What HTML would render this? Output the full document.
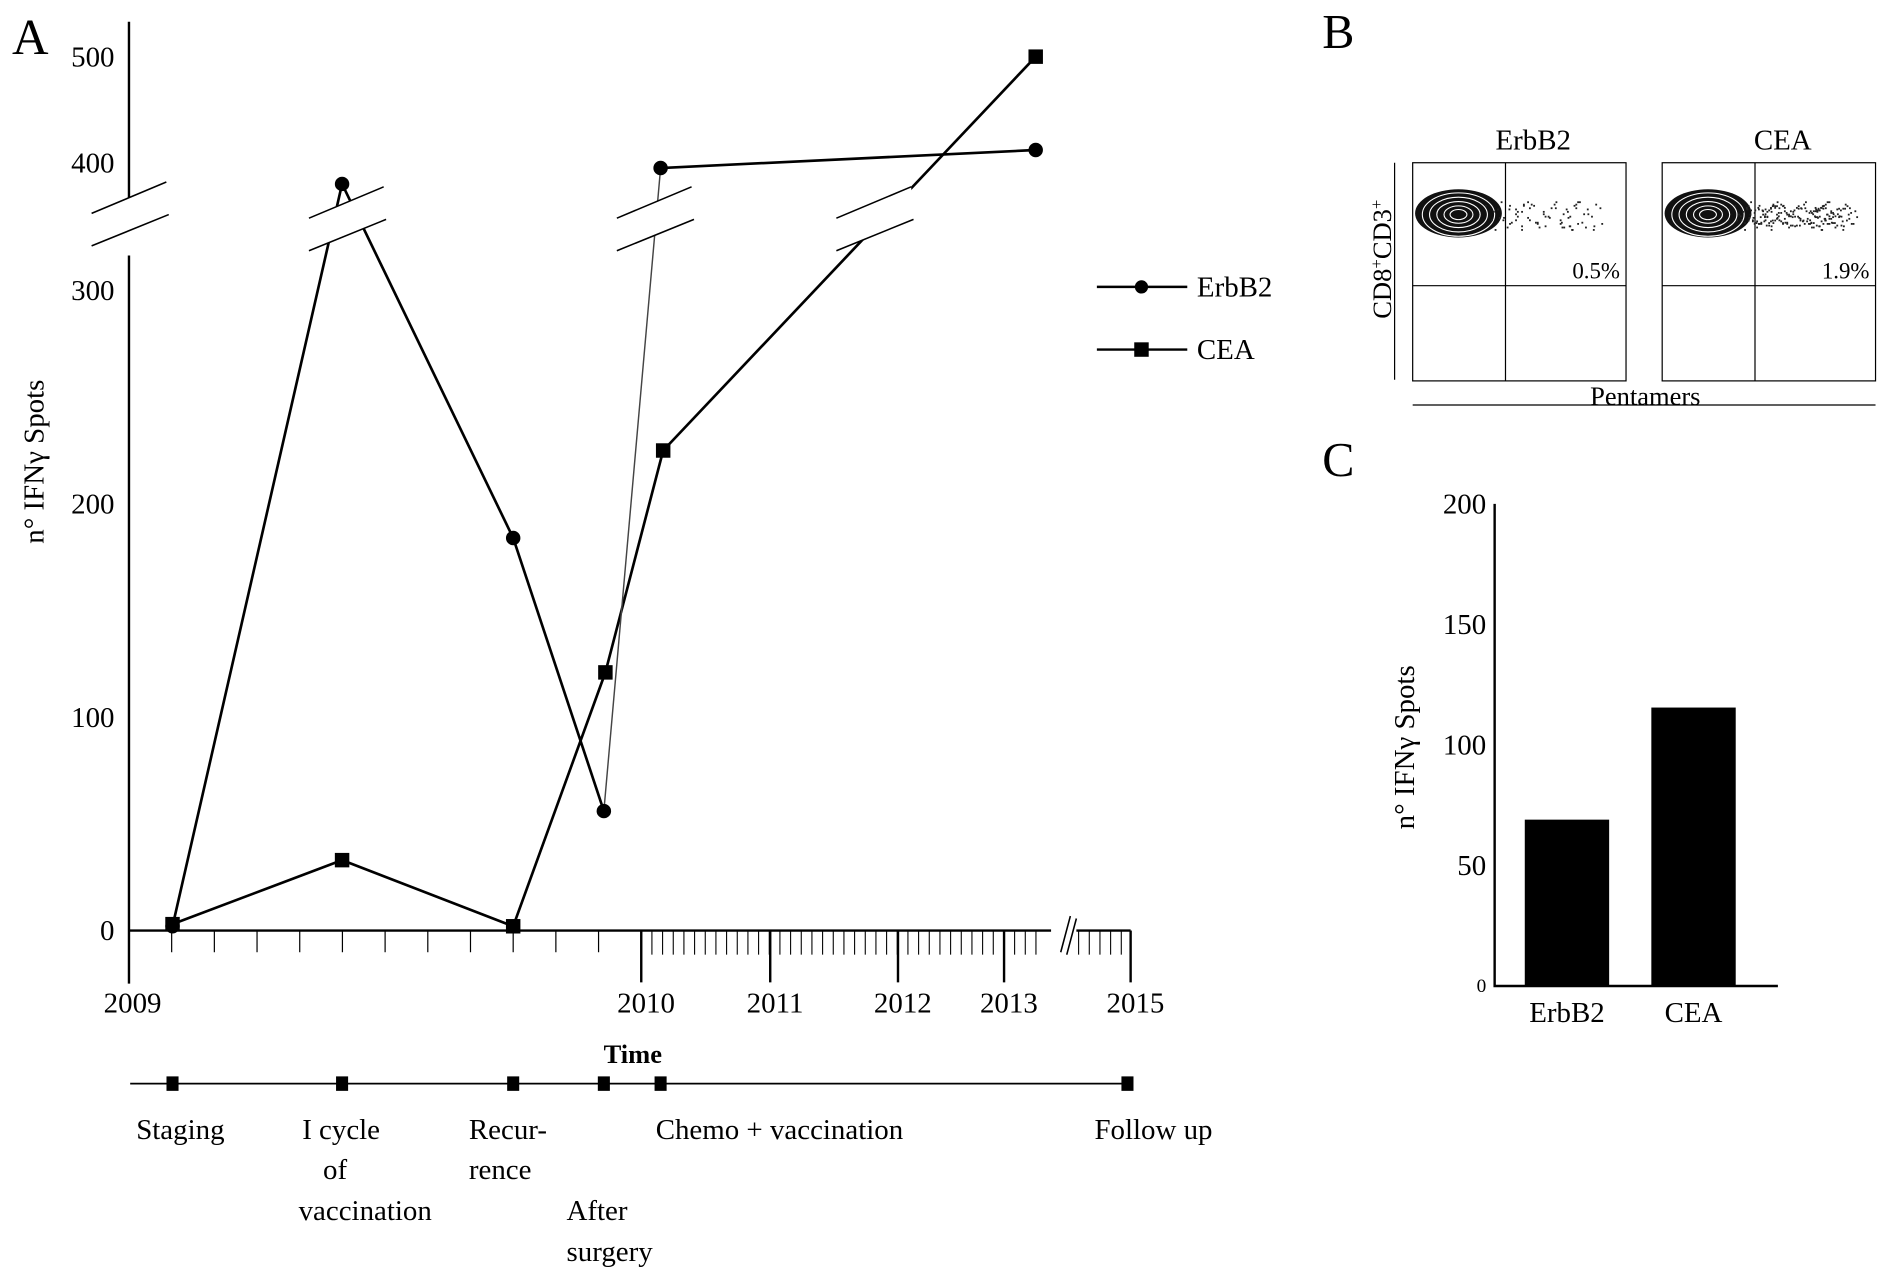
<!DOCTYPE html>
<html><head><meta charset="utf-8"><style>
html,body{margin:0;padding:0;background:#fff;}
svg{display:block;font-family:"Liberation Serif",serif;}
</style></head><body>
<svg id="fig" width="1890" height="1276" viewBox="0 0 1568 1058.6" xmlns="http://www.w3.org/2000/svg">
<g id="A"></g>
<g id="B"></g>
<g id="C"></g>
</svg>
<script>
// Panel A data
const dates = [2009.085, 2009.416, 2009.75, 2009.927, 2010.15, 2013.5];
const ceaDates = [2009.085, 2009.416, 2009.75, 2009.93, 2010.17, 2013.5];
const erbb2Values = [2, 380, 184, 56, 395, 412];
const ceaValues = [3, 33, 2, 121, 225, 500];
const yTicksLow = [0, 100, 200, 300];
const yTicksHigh = [400, 500];
const yearLabels = [2009, 2010, 2011, 2012, 2013, 2015];
const events = [2009.085, 2009.416, 2009.75, 2009.927, 2010.15, 2014.95];
// Panel C data
const barCats = ['ErbB2', 'CEA'];
const barValues = [69, 115.5];
const barTicks = [0, 50, 100, 150, 200];

const NS = 'http://www.w3.org/2000/svg';
function mk(parent, tag, attrs, text) {
  const e = document.createElementNS(NS, tag);
  for (const k in attrs) e.setAttribute(k, attrs[k]);
  if (text !== undefined) e.textContent = text;
  parent.appendChild(e);
  return e;
}
const yrs = [2009, 2010, 2011, 2012, 2013, 2015];
const yrX = [107, 532, 639, 745, 833, 938];
function xA(t) {
  for (let i = 0; i < yrs.length - 1; i++) {
    if (t <= yrs[i + 1]) return yrX[i] + (t - yrs[i]) / (yrs[i + 1] - yrs[i]) * (yrX[i + 1] - yrX[i]);
  }
  return yrX[yrX.length - 1];
}
function yA(v) { return v <= 350 ? 772 - v * 1.77 : 135 - (v - 400) * 0.88; }

const A = document.getElementById('A');
let e;
e = mk(A, 'text', {x: 10, y: 45, 'font-size': 42}, 'A');


e = mk(A, 'path', {d: 'M107 18 V167 M107 212 V816', stroke: '#000', 'stroke-width': 2, fill: 'none'});


function brk(cx, cy, name) {
  const g = mk(A, 'g', {});
  
  
  mk(g, 'polygon', {points: `${cx-34},${cy+1} ${cx+30},${cy-25} ${cx+32},${cy+2} ${cx-32},${cy+28}`, fill: '#fff'});
  mk(g, 'line', {x1: cx - 32, y1: cy + 1, x2: cx + 30, y2: cy - 25, stroke: '#000', 'stroke-width': 1.3});
  mk(g, 'line', {x1: cx - 32, y1: cy + 28, x2: cx + 32, y2: cy + 2, stroke: '#000', 'stroke-width': 1.3});
}
brk(108, 176, 'y-axis-break');
yTicksLow.concat(yTicksHigh).forEach(v => {
  e = mk(A, 'text', {x: 95, y: yA(v) + 8, 'font-size': 24, 'text-anchor': 'end'}, v);
  
  
});
e = mk(A, 'text', {x: 0, y: 0, 'font-size': 24, 'text-anchor': 'middle', transform: 'translate(36,383) rotate(-90)'}, 'n° IFNγ Spots');


e = mk(A, 'path', {d: 'M107 772 H872 M893 772 H938', stroke: '#000', 'stroke-width': 2, fill: 'none'});


for (let m = 1; m < 12; m++) {
  const x = xA(2009 + m / 12);
  mk(A, 'line', {x1: x, y1: 772, x2: x, y2: 790, stroke: '#000', 'stroke-width': 1});
}
for (let x = 532 + 8.85; x < 938; x += 8.85) {
  if (x > 868 && x < 893) continue;
  mk(A, 'line', {x1: x, y1: 772, x2: x, y2: 792, stroke: '#000', 'stroke-width': 0.9});
}
yearLabels.forEach(y => {
  const x = xA(y);
  if (y !== 2009) mk(A, 'line', {x1: x, y1: 772, x2: x, y2: 815, stroke: '#000', 'stroke-width': 2});
  e = mk(A, 'text', {x: x + (y === 2009 ? 3 : 4), y: 840, 'font-size': 24, 'text-anchor': 'middle'}, y);
  
  
});
e = mk(A, 'path', {d: 'M880 790 L888 760 M885 792 L893 762', stroke: '#000', 'stroke-width': 1.3, fill: 'none'});


e = mk(A, 'text', {x: 525, y: 882, 'font-size': 22, 'font-weight': 'bold', 'text-anchor': 'middle'}, 'Time');



function series(xs, vals, name, marker) {
  const g = mk(A, 'g', {});
  
  
  const pts = xs.map((t, i) => [xA(t), yA(vals[i])]);
  const breaks = [];
  for (let i = 0; i < pts.length - 1; i++) {
    const thin = name === 'erbb2' && i > 0 && vals[i] < 100 && vals[i + 1] > 350;
    mk(g, 'line', {x1: pts[i][0], y1: pts[i][1], x2: pts[i + 1][0], y2: pts[i + 1][1], stroke: thin ? '#444' : '#000', 'stroke-width': thin ? 1.2 : 2.2});
    const lo = Math.min(vals[i], vals[i + 1]), hi = Math.max(vals[i], vals[i + 1]);
    if (lo < 330 && hi > 350) {
      const yb = 188, f = (yb - pts[i][1]) / (pts[i + 1][1] - pts[i][1]);
      breaks.push([pts[i][0] + f * (pts[i + 1][0] - pts[i][0]), yb]);
    }
  }
  pts.forEach(p => {
    if (marker === 'circle') mk(g, 'circle', {cx: p[0], cy: p[1], r: 6, fill: '#000'});
    else mk(g, 'rect', {x: p[0] - 6, y: p[1] - 6, width: 12, height: 12, fill: '#000'});
  });
  return breaks;
}
const b1 = series(ceaDates, ceaValues, 'cea', 'square');
const b2 = series(dates, erbb2Values, 'erbb2', 'circle');
const allB = [];
b1.concat(b2).forEach(b => { if (!allB.some(a => Math.abs(a[0] - b[0]) < 50)) allB.push(b); else { const a = allB.find(a => Math.abs(a[0] - b[0]) < 50); a[0] = (a[0] + b[0]) / 2; } });
allB.forEach(b => brk(b[0], b[1] - 8, 'series-break'));

[['ErbB2', 238, 'circle'], ['CEA', 290, 'square']].forEach(l => {
  const g = mk(A, 'g', {});
  
  
  mk(g, 'line', {x1: 910, y1: l[1], x2: 985, y2: l[1], stroke: '#000', 'stroke-width': 2});
  if (l[2] === 'circle') mk(g, 'circle', {cx: 947, cy: l[1], r: 5.5, fill: '#000'});
  else mk(g, 'rect', {x: 941, y: l[1] - 6, width: 12, height: 12, fill: '#000'});
  mk(g, 'text', {x: 993, y: l[1] + 8, 'font-size': 24}, l[0]);
});

e = mk(A, 'line', {x1: 108, y1: 899, x2: 940, y2: 899, stroke: '#000', 'stroke-width': 1.5});


events.forEach(t => {
  e = mk(A, 'rect', {x: xA(t) - 5, y: 893, width: 10, height: 12, fill: '#000'});
  
  
});
const evLabels = [
  ['Staging', 113, 945, 'start'], ['I cycle', 283, 945, 'middle'], ['of', 278, 978, 'middle'], ['vaccination', 303, 1012, 'middle'],
  ['Recur-', 389, 945, 'start'], ['rence', 389, 978, 'start'], ['After', 470, 1012, 'start'], ['surgery', 470, 1046, 'start'],
  ['Chemo + vaccination', 544, 945, 'start'], ['Follow up', 908, 945, 'start']];
evLabels.forEach(l => {
  e = mk(A, 'text', {x: l[1], y: l[2], 'font-size': 24, 'text-anchor': l[3]}, l[0]);
  
  
});

const B = document.getElementById('B');
e = mk(B, 'text', {x: 1097, y: 40, 'font-size': 40}, 'B');


e = mk(B, 'line', {x1: 1157, y1: 135, x2: 1157, y2: 315, stroke: '#000', 'stroke-width': 1});


e = mk(B, 'line', {x1: 1172, y1: 336, x2: 1556, y2: 336, stroke: '#000', 'stroke-width': 1});


e = mk(B, 'text', {x: 0, y: 0, 'font-size': 22, 'text-anchor': 'middle', transform: 'translate(1154,215) rotate(-90)'});
e.innerHTML = 'CD8<tspan baseline-shift="super" font-size="14">+</tspan>CD3<tspan baseline-shift="super" font-size="14">+</tspan>';


e = mk(B, 'text', {x: 1365, y: 336, 'font-size': 22, 'text-anchor': 'middle'}, 'Pentamers');


const dotOffsetsX = [80, 95, 110, 123, 138, 150, 165, 100, 118, 132, 145, 158, 88, 105, 142];
const dotOffsetsY = [-5, 4, -8, 2, -3, 6, -6, 9, -1, 7, -9, 1, 10, -11, 12];
[['ErbB2', 1172, '0.5%', 5], ['CEA', 1379, '1.9%', 14]].forEach(p => {
  const g = mk(B, 'g', {});
  
  
  const x0 = p[1];
  mk(g, 'rect', {x: x0, y: 135, width: 177, height: 181, fill: 'none', stroke: '#000', 'stroke-width': 1});
  mk(g, 'line', {x1: x0 + 77, y1: 135, x2: x0 + 77, y2: 316, stroke: '#000', 'stroke-width': 1});
  mk(g, 'line', {x1: x0, y1: 237, x2: x0 + 177, y2: 237, stroke: '#000', 'stroke-width': 1});
  mk(g, 'text', {x: x0 + 100, y: 124, 'font-size': 24, 'text-anchor': 'middle'}, p[0]);
  mk(g, 'text', {x: x0 + 172, y: 231, 'font-size': 19, 'text-anchor': 'end'}, p[2]);
  mk(g, 'ellipse', {cx: x0 + 38, cy: 177, rx: 36, ry: 20, fill: '#111'});
  [30, 24, 18, 12, 7].forEach(r => mk(g, 'ellipse', {cx: x0 + 38, cy: 178, rx: r, ry: r * 0.6, fill: 'none', stroke: '#fff', 'stroke-width': 0.9}));
  for (let k = 0; k < p[3]; k++) {
    for (let i = 0; i < dotOffsetsX.length; i++) {
      const dx = dotOffsetsX[i] - (k % 3) * 5 + Math.floor(k / 3) * 1.5 - 10;
      const dy = dotOffsetsY[(i + k) % dotOffsetsY.length] * (k < 5 ? 1 : 0.7);
      if (dx < 172) mk(g, 'rect', {x: x0 + dx, y: 178 + dy, width: 1.5, height: 1.5, fill: '#222'});
    }
  }
});

const C = document.getElementById('C');
e = mk(C, 'text', {x: 1097, y: 395, 'font-size': 40}, 'C');


function yC(v) { return 818 - v * 2; }
e = mk(C, 'path', {d: `M1240 ${yC(200)} V818 H1475`, stroke: '#000', 'stroke-width': 2, fill: 'none'});


barTicks.forEach(v => {
  e = mk(C, 'text', {x: 1233, y: yC(v) + (v === 0 ? 5 : 8), 'font-size': v === 0 ? 16 : 24, 'text-anchor': 'end'}, v);
  
  
});
e = mk(C, 'text', {x: 0, y: 0, 'font-size': 24, 'text-anchor': 'middle', transform: 'translate(1173,620) rotate(-90)'}, 'n° IFNγ Spots');


barCats.forEach((c, i) => {
  const cx = 1300 + i * 105;
  e = mk(C, 'rect', {x: cx - 35, y: yC(barValues[i]), width: 70, height: 818 - yC(barValues[i]), fill: '#000'});
  
  
  e = mk(C, 'text', {x: cx, y: 848, 'font-size': 24, 'text-anchor': 'middle'}, c);
  
  
});
</script>
</body></html>
